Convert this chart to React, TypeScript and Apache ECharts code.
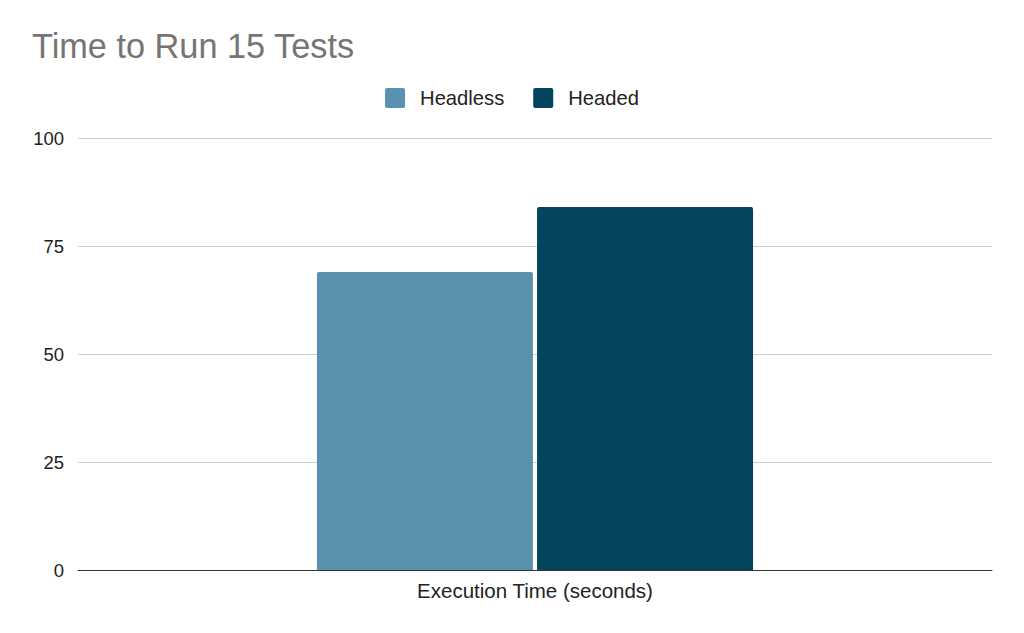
import React, { useEffect, useRef } from 'react'
import * as echarts from 'echarts'

const categories = ['Execution Time (seconds)']
const seriesNames = ['Headless', 'Headed']
const headless = [69]
const headed = [84]
const colors = ['#5a91ae', '#03455f']

const FONT = '"Liberation Sans", Arial, sans-serif'

const App: React.FC = () => {
  const chartRef = useRef<HTMLDivElement>(null)

  useEffect(() => {
    if (!chartRef.current) return
    const chart = echarts.init(chartRef.current, undefined, { renderer: 'svg' })

    const option: echarts.EChartsOption = {
      animation: false,
      backgroundColor: '#ffffff',
      textStyle: { fontFamily: FONT },
      title: {
        text: 'Time to Run 15 Tests',
        left: 27,
        top: 24,
        textStyle: { fontSize: 34.3, fontWeight: 'normal', color: '#757575', fontFamily: FONT }
      },
      legend: {
        top: 83,
        left: 'center',
        itemWidth: 20,
        itemHeight: 20,
        itemGap: 29,
        icon: 'path://M2,0 H18 A2,2 0 0 1 20,2 V18 A2,2 0 0 1 18,20 H2 A2,2 0 0 1 0,18 V2 A2,2 0 0 1 2,0 Z',
        data: seriesNames,
        textStyle: { fontSize: 20.2, color: '#222', fontFamily: FONT, padding: [0, 0, 0, 10] }
      },
      grid: { left: 78, right: 32, top: 138, bottom: 63 },
      xAxis: {
        type: 'category',
        data: categories,
        axisLine: { lineStyle: { color: '#333', width: 1 } },
        axisTick: { show: false },
        axisLabel: { fontSize: 20.5, color: '#222', margin: 10, fontFamily: FONT }
      },
      yAxis: {
        type: 'value',
        min: 0,
        max: 100,
        interval: 25,
        axisLine: { show: false },
        axisTick: { show: false },
        splitLine: { lineStyle: { color: '#cccccc', width: 1 } },
        axisLabel: { fontSize: 18.5, color: '#222', margin: 14, fontFamily: FONT }
      },
      series: [
        {
          name: seriesNames[0],
          type: 'bar',
          data: headless,
          barWidth: 216,
          barGap: '1.9%',
          itemStyle: { color: colors[0], borderRadius: [2, 2, 0, 0] }
        },
        {
          name: seriesNames[1],
          type: 'bar',
          data: headed,
          barWidth: 216,
          itemStyle: { color: colors[1], borderRadius: [2, 2, 0, 0] }
        }
      ]
    }

    chart.setOption(option)
    return () => {
      chart.dispose()
    }
  }, [])

  return (
    <div
      ref={chartRef}
      style={{ position: 'absolute', left: 0, top: 0, width: 1024, height: 633 }}
    />
  )
}

export default App
